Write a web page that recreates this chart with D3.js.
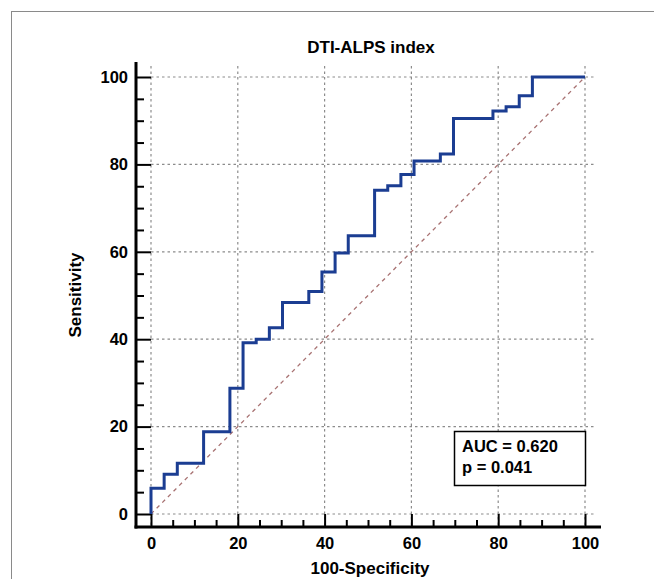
<!DOCTYPE html>
<html>
<head>
<meta charset="utf-8">
<script src="https://cdn.jsdelivr.net/npm/d3@7"></script>
<style>
  body { margin: 0; background: #fff; }
  text { font-family: "Liberation Sans", Arial, sans-serif; font-weight: bold; }
</style>
</head>
<body>
<div class="canvas"></div>
<script>
// ROC points: 100-Specificity (x) and Sensitivity (y)
const fpr  = [0, 0, 3.03, 6.06, 12.12, 18.18, 21.21, 24.24, 27.27, 30.30, 36.36, 39.39, 42.42, 45.45,
              51.52, 54.55, 57.58, 60.61, 66.67, 69.70, 78.79, 81.82, 84.85, 87.88, 100];
const sens = [0, 5.9, 9.1, 11.6, 18.8, 28.8, 39.2, 40.0, 42.6, 48.4, 50.9, 55.4, 59.7, 63.7,
              74.1, 75.1, 77.7, 80.8, 82.4, 90.5, 92.2, 93.2, 95.7, 100, 100];
const xTicks = [0, 20, 40, 60, 80, 100];
const yTicks = [0, 20, 40, 60, 80, 100];
const minorTicks = d3.range(0, 101, 5).filter(v => v % 20 !== 0);
const title = 'DTI-ALPS index';
const statsText = ['AUC = 0.620', 'p = 0.041'];

const W = 654, H = 579;
const svg = d3.select('.canvas')
    .append('svg')
    .attr('width', W)
    .attr('height', H);

// outer frame
svg.append('rect')
    .attr('x', 11.5).attr('y', 11.5)
    .attr('width', 700).attr('height', 700)
    .attr('fill', 'none')
    .attr('stroke', '#8a8a8a')
    .attr('stroke-width', 1);

const x = d3.scaleLinear().domain([0, 100]).range([151, 585]);
const y = d3.scaleLinear().domain([0, 100]).range([514, 77]);
const axisX = 136, axisY = 527;

//=========== grid ===========//
const grid = svg.append('g')
    .attr('stroke', '#8c8c8c')
    .attr('stroke-width', 1.2)
    .attr('stroke-dasharray', '2.5,3');

grid.selectAll('.vg').data(xTicks).enter()
    .append('line')
    .attr('x1', d => x(d)).attr('x2', d => x(d))
    .attr('y1', 66).attr('y2', axisY);

grid.selectAll('.hg').data(yTicks).enter()
    .append('line')
    .attr('x1', x(0)).attr('x2', 596)
    .attr('y1', d => y(d)).attr('y2', d => y(d));

// diagonal reference
svg.append('line')
    .attr('x1', x(0)).attr('y1', y(0))
    .attr('x2', x(100)).attr('y2', y(100))
    .attr('stroke', '#a87272')
    .attr('stroke-width', 1.3)
    .attr('stroke-dasharray', '4,4');

//=========== axes ===========//
const yAxisGroup = svg.append('g').attr('transform', `translate(${axisX},0)`);
yAxisGroup.call(d3.axisLeft(y).tickValues(yTicks).tickSize(-15).tickPadding(8).tickSizeOuter(0));
yAxisGroup.append('g').call(d3.axisLeft(y).tickValues(minorTicks).tickSize(-8).tickFormat(''));

const xAxisGroup = svg.append('g').attr('transform', `translate(0,${axisY})`);
xAxisGroup.call(d3.axisBottom(x).tickValues(xTicks).tickSize(-13).tickPadding(10).tickSizeOuter(0));
xAxisGroup.append('g').call(d3.axisBottom(x).tickValues(minorTicks).tickSize(-7).tickFormat(''));

svg.selectAll('.domain').remove();
svg.selectAll('.tick line').attr('stroke', '#000').attr('stroke-width', 2);
svg.selectAll('.tick text')
    .attr('fill', '#000')
    .style('font-size', '16.5px')
    .style('font-family', '"Liberation Sans", Arial, sans-serif')
    .style('font-weight', 'bold');

// axis lines
svg.append('line')
    .attr('x1', axisX).attr('x2', axisX)
    .attr('y1', 62).attr('y2', axisY + 1.5)
    .attr('stroke', '#000').attr('stroke-width', 3);
svg.append('line')
    .attr('x1', axisX - 1.5).attr('x2', 601)
    .attr('y1', axisY).attr('y2', axisY)
    .attr('stroke', '#000').attr('stroke-width', 3);

//=========== ROC curve ===========//
const points = fpr.map((f, i) => [f, sens[i]]);
const line = d3.line()
    .x(d => x(d[0]))
    .y(d => y(d[1]))
    .curve(d3.curveStepAfter);

svg.append('path')
    .datum(points)
    .attr('d', line)
    .attr('fill', 'none')
    .attr('stroke', '#1b3d92')
    .attr('stroke-width', 3);

//=========== texts ===========//
svg.append('text')
    .attr('x', 371).attr('y', 53)
    .attr('text-anchor', 'middle')
    .style('font-size', '17px')
    .text(title);

svg.append('text')
    .attr('x', 370).attr('y', 574)
    .attr('text-anchor', 'middle')
    .style('font-size', '17px')
    .text('100-Specificity');

svg.append('text')
    .attr('transform', 'translate(81,295) rotate(-90)')
    .attr('text-anchor', 'middle')
    .style('font-size', '17px')
    .text('Sensitivity');

// AUC box
svg.append('rect')
    .attr('x', 454.5).attr('y', 431.5)
    .attr('width', 131).attr('height', 54)
    .attr('fill', '#fff')
    .attr('stroke', '#000')
    .attr('stroke-width', 1.5);

svg.selectAll('.stat').data(statsText).enter()
    .append('text')
    .attr('x', 462)
    .attr('y', (d, i) => 452 + i * 21)
    .style('font-size', '16.5px')
    .text(d => d);
</script>
</body>
</html>
